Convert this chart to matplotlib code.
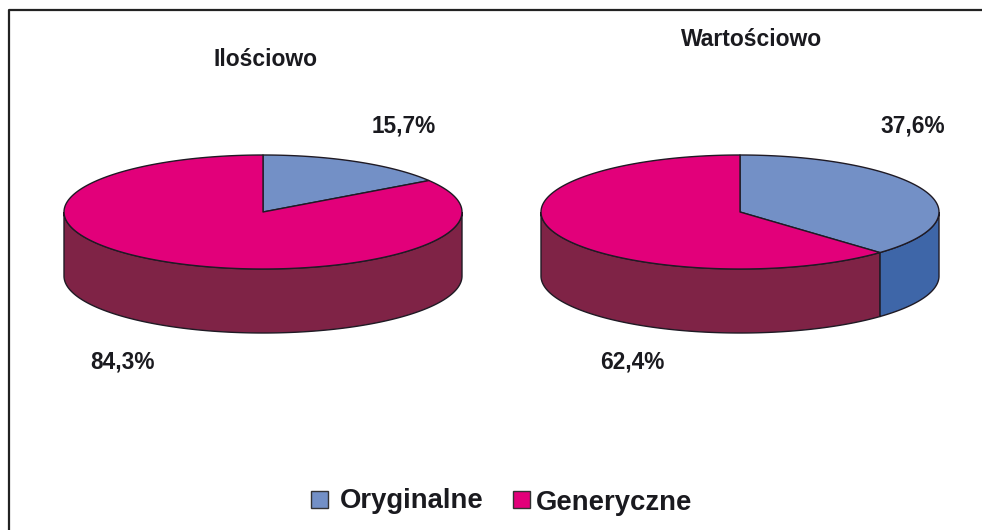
import matplotlib
matplotlib.use('Agg')
import matplotlib.pyplot as plt
import numpy as np

# dane
titles = ['Ilościowo', 'Wartościowo']
categories = ['Oryginalne', 'Generyczne']
orig_values = [15.7, 37.6]
gener_values = [84.3, 62.4]
value_labels = ['15,7%', '84,3%', '37,6%', '62,4%']

# kolory
top_colors = ['#7390c6', '#e2007a']
side_colors = ['#3e66a8', '#7f2346']
edge = '#1f1a24'

plt.rcParams['font.family'] = ['Liberation Sans', 'DejaVu Sans']
plt.rcParams['font.weight'] = 'bold'

fig = plt.figure(figsize=(9.82, 5.30), dpi=100)
ax = fig.add_axes([0, 0, 1, 1])
ax.set_xlim(0, 982)
ax.set_ylim(530, 0)
ax.axis('off')

RX, RY, DEPTH = 199, 57, 64
CY = 212


def rim(cx, a, b):
    t = np.radians(np.linspace(a, b, 200))
    return cx + RX * np.sin(t), CY - RY * np.cos(t)


def draw_pie(cx, orig):
    angle = orig / 100 * 360
    # boczna sciana - widoczna tylko dolna polowa elipsy (90-270 stopni)
    for a, b, c in [(0, angle, side_colors[0]), (angle, 360, side_colors[1])]:
        lo, hi = max(a, 90), min(b, 270)
        if lo < hi:
            x, y = rim(cx, lo, hi)
            ax.fill(np.r_[x, x[::-1]], np.r_[y, y[::-1] + DEPTH], fc=c,
                    ec=edge, lw=1.0, zorder=2)
    # gorna powierzchnia
    for a, b, c in [(0, angle, top_colors[0]), (angle, 360, top_colors[1])]:
        x, y = rim(cx, a, b)
        ax.fill(np.r_[cx, x], np.r_[CY, y], fc=c, ec=edge, lw=1.0,
                joinstyle='round', zorder=3)


draw_pie(263, orig_values[0])
draw_pie(740, orig_values[1])

# ramka
ax.plot([9.5, 9.5, 982], [530, 9.5, 9.5], color='#222222', lw=1.6, zorder=1)

txt = dict(color='#1a1a1f', fontweight='bold', ha='center', va='center')
ax.text(266, 60, titles[0], fontsize=16.5, **txt)
ax.text(752, 39, titles[1], fontsize=16.5, **txt)
ax.text(403.5, 125.5, value_labels[0], fontsize=16.3, **txt)
ax.text(122.5, 361.5, value_labels[1], fontsize=16.3, **txt)
ax.text(913, 125.5, value_labels[2], fontsize=16.3, **txt)
ax.text(632.5, 361.5, value_labels[3], fontsize=16.3, **txt)

# legenda
ax.add_patch(plt.Rectangle((311, 491), 17, 17, fc=top_colors[0], ec='#333333', lw=1))
ax.add_patch(plt.Rectangle((513, 491), 17, 17, fc=top_colors[1], ec='#333333', lw=1))
ax.text(340, 501.5, categories[0], fontsize=19.8, color='#1a1a1f', fontweight='bold', ha='left', va='center')
ax.text(536, 502.5, categories[1], fontsize=19.8, color='#1a1a1f', fontweight='bold', ha='left', va='center')

fig.savefig('out.png', dpi=100, facecolor='white')
